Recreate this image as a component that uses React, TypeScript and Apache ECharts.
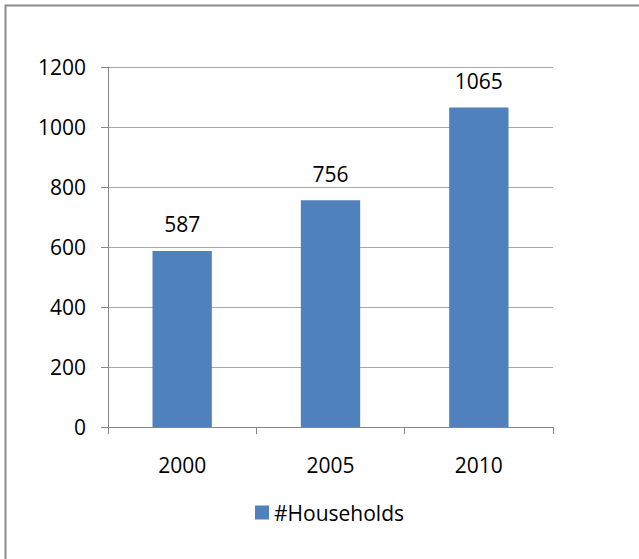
import React, { useEffect, useRef } from "react";
import * as echarts from "echarts";

const categories = ["2000", "2005", "2010"];
const households = [587, 756, 1065];
const seriesName = "#Households";

const FONT = "Open Sans";
const FS = 21;

export default function App() {
  const ref = useRef<HTMLDivElement>(null);
  useEffect(() => {
    document.body.style.margin = "0";
    const chart = echarts.init(ref.current!, null, { renderer: "svg" });
    chart.setOption({
      animation: false,
      backgroundColor: "#ffffff",
      graphic: [
        {
          type: "rect",
          shape: { x: 5.5, y: 5.5, width: 800, height: 800 },
          style: { fill: "none", stroke: "#8c8c8c", lineWidth: 2 },
          silent: true,
        },
      ],
      grid: { left: 108, right: 86, top: 67, bottom: 132 },
      legend: {
        data: [seriesName],
        left: 250,
        top: 497,
        icon: "rect",
        itemWidth: 14,
        itemHeight: 14,
        itemGap: 4,
        textStyle: { fontFamily: FONT, fontSize: FS, color: "#000" },
      },
      xAxis: {
        type: "category",
        data: categories,
        boundaryGap: true,
        axisLine: { show: true, lineStyle: { color: "#868686", width: 1 } },
        axisTick: { show: true, length: 7, lineStyle: { color: "#868686" } },
        axisLabel: { fontFamily: FONT, fontSize: FS, color: "#000", margin: 27 },
      },
      yAxis: {
        type: "value",
        min: 0,
        max: 1200,
        interval: 200,
        axisLine: { show: true, lineStyle: { color: "#868686", width: 1 } },
        axisTick: { show: true, length: 7, lineStyle: { color: "#868686" } },
        axisLabel: {
          fontFamily: FONT,
          fontSize: FS,
          color: "#000",
          margin: 22,
          formatter: (v: number) => String(v),
        },
        splitLine: { show: true, lineStyle: { color: "#a6a6a6", width: 1 } },
      },
      series: [
        {
          name: seriesName,
          type: "bar",
          data: households,
          barWidth: "40%",
          itemStyle: { color: "#4f81bd" },
          label: {
            show: true,
            position: "top",
            distance: 16,
            fontFamily: FONT,
            fontSize: FS,
            color: "#000",
          },
        },
      ],
    });
    return () => chart.dispose();
  }, []);
  return <div ref={ref} style={{ width: 639, height: 559 }} />;
}
